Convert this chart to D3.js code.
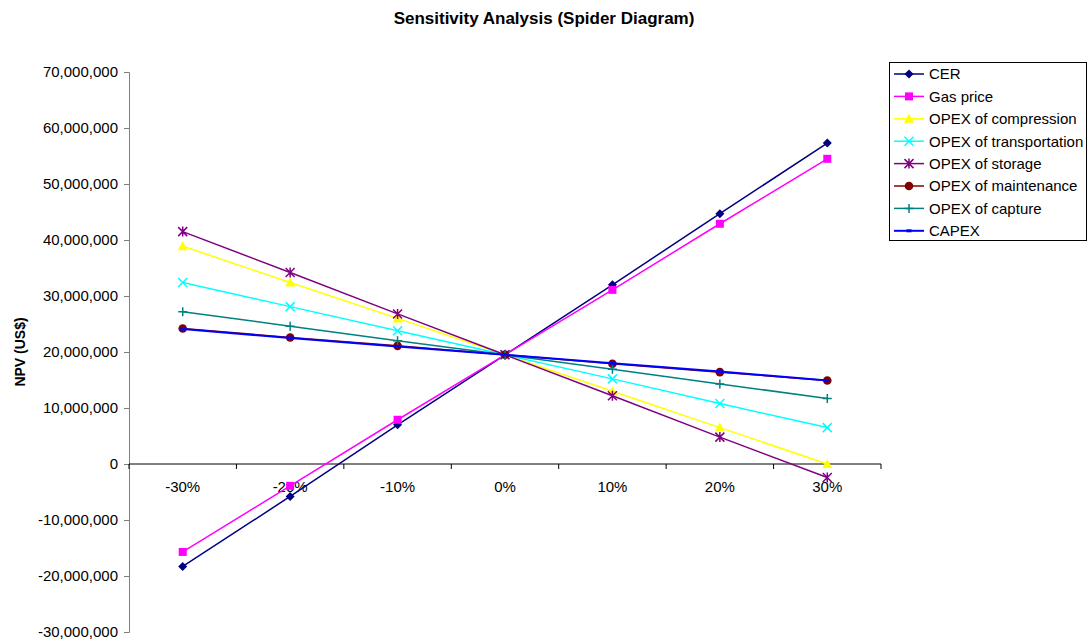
<!DOCTYPE html>
<html><head><meta charset="utf-8">
<script src="https://cdn.jsdelivr.net/npm/d3@7"></script>
<style>body{margin:0;background:#fff;}svg{display:block;font-family:Arial,"Liberation Sans",sans-serif;}</style>
</head><body>
<svg id="c" width="1089" height="639"></svg>
<script>
const categories = ["-30%","-20%","-10%","0%","10%","20%","30%"];
const seriesNames = ["CER","Gas price","OPEX of compression","OPEX of transportation","OPEX of storage","OPEX of maintenance","OPEX of capture","CAPEX"];
const cer            = [-18300000,-5800000,7000000,19500000,32000000,44700000,57300000];
const gasPrice       = [-15700000,-3900000,7900000,19500000,31100000,42900000,54500000];
const opexCompression= [38900000,32400000,26000000,19500000,13000000,6500000,0];
const opexTransport  = [32400000,28100000,23800000,19500000,15200000,10800000,6500000];
const opexStorage    = [41500000,34200000,26800000,19500000,12200000,4800000,-2400000];
const opexMaintenance= [24200000,22600000,21100000,19500000,17900000,16400000,14900000];
const opexCapture    = [27200000,24600000,22000000,19500000,16900000,14300000,11700000];
const capex          = [24100000,22500000,21000000,19500000,18000000,16500000,14900000];
const yTicks = [-30000000,-20000000,-10000000,0,10000000,20000000,30000000,40000000,50000000,60000000,70000000];

const seriesValues = [cer,gasPrice,opexCompression,opexTransport,opexStorage,opexMaintenance,opexCapture,capex];
const colors = ["#000080","#FF00FF","#FFFF00","#00FFFF","#800080","#800000","#008080","#0000FF"];
const markers = ["diamond","square","triangle","x","asterisk","circle","plus","dash"];

const svg = d3.select("#c");
const x = d3.scaleBand().domain(categories).range([129,881]).padding(0);
const y = d3.scaleLinear().domain([-30000000,70000000]).range([632,72]);

// title
svg.append("text").attr("x",544).attr("y",24).attr("text-anchor","middle")
  .attr("font-size",17).attr("font-weight","bold").text("Sensitivity Analysis (Spider Diagram)");
// y label
svg.append("text").attr("transform","translate(25,352) rotate(-90)").attr("text-anchor","middle")
  .attr("font-size",14).attr("font-weight","bold").text("NPV (US$)");

const fmt = v => d3.format(",")(v).replace("\u2212","-");
const yAxis = svg.append("g").attr("transform","translate(129,0)")
  .call(d3.axisLeft(y).tickValues(yTicks).tickFormat(fmt).tickSize(5).tickPadding(6));
yAxis.select(".domain").attr("stroke","#808080");
yAxis.selectAll(".tick line").attr("stroke","#808080");
yAxis.selectAll("text").attr("font-size",15).attr("fill","#000").attr("font-family","Arial,'Liberation Sans',sans-serif");

// x axis at zero
const xAxisG = svg.append("g").attr("transform",`translate(0,${y(0)})`);
xAxisG.append("line").attr("x1",129).attr("x2",881).attr("stroke","#000").attr("stroke-width",1);
const bounds = categories.map(c => x(c)).concat([x(categories[categories.length-1]) + x.bandwidth()]);
xAxisG.selectAll("line.t").data(bounds).join("line").attr("class","t")
  .attr("x1",d=>d).attr("x2",d=>d).attr("y1",0).attr("y2",5).attr("stroke","#000");
xAxisG.selectAll("text").data(categories).join("text")
  .attr("x",d=>x(d)+x.bandwidth()/2).attr("y",28).attr("text-anchor","middle")
  .attr("font-size",15).text(d=>d);

const line = d3.line().x((d,i)=>x(categories[i])+x.bandwidth()/2).y(d=>y(d));

function drawMarker(g, type, color){
  switch(type){
    case "diamond": g.append("path").attr("d","M0,-4.5L4.5,0L0,4.5L-4.5,0Z").attr("fill",color); break;
    case "square": g.append("rect").attr("x",-4).attr("y",-4).attr("width",8).attr("height",8).attr("fill",color); break;
    case "triangle": g.append("path").attr("d","M0,-5L5,4L-5,4Z").attr("fill",color); break;
    case "x": g.append("path").attr("d","M-4.5,-4.5L4.5,4.5M-4.5,4.5L4.5,-4.5").attr("stroke",color).attr("stroke-width",1.5).attr("fill","none"); break;
    case "asterisk": g.append("path").attr("d","M-4.5,-4.5L4.5,4.5M-4.5,4.5L4.5,-4.5M0,-5L0,5").attr("stroke",color).attr("stroke-width",1.5).attr("fill","none"); break;
    case "circle": g.append("circle").attr("r",4.3).attr("fill",color); break;
    case "plus": g.append("path").attr("d","M-4.5,0L4.5,0M0,-4.5L0,4.5").attr("stroke",color).attr("stroke-width",1.5).attr("fill","none"); break;
    case "dash": g.append("rect").attr("x",-2.5).attr("y",-1.5).attr("width",5).attr("height",3).attr("fill",color); break;
  }
}

seriesValues.forEach((vals, si) => {
  const g = svg.append("g");
  g.append("path").datum(vals).attr("d",line).attr("fill","none")
    .attr("stroke",colors[si]).attr("stroke-width",si===7?2:1.5);
  vals.forEach((v,i) => {
    const m = g.append("g").attr("transform",`translate(${x(categories[i])+x.bandwidth()/2},${y(v)})`);
    drawMarker(m, markers[si], colors[si]);
  });
});

// legend
const lg = svg.append("g");
lg.append("rect").attr("x",889.5).attr("y",62.5).attr("width",197).attr("height",178)
  .attr("fill","#fff").attr("stroke","#000").attr("stroke-width",1);
seriesNames.forEach((n,i) => {
  const yy = 74 + i*22.4;
  lg.append("line").attr("x1",894).attr("x2",924).attr("y1",yy).attr("y2",yy)
    .attr("stroke",colors[i]).attr("stroke-width",i===7?2:1.5);
  const m = lg.append("g").attr("transform",`translate(909,${yy})`);
  drawMarker(m, markers[i], colors[i]);
  lg.append("text").attr("x",929).attr("y",yy+5.3).attr("font-size",15).text(n);
});
</script>
</body></html>
